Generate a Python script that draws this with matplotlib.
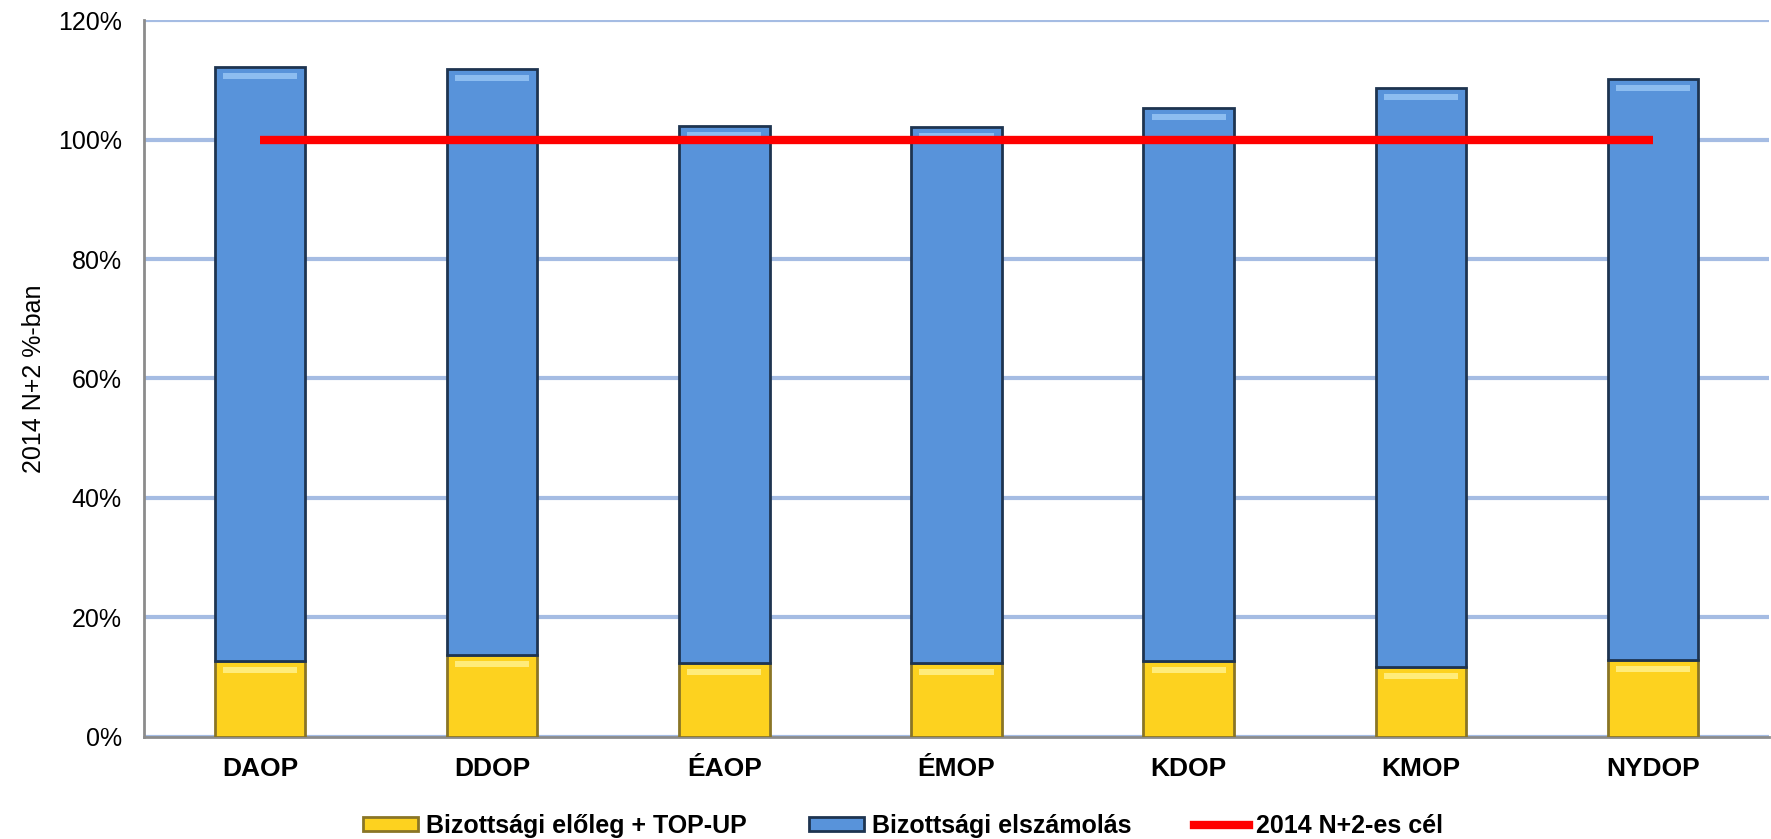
import matplotlib
matplotlib.use("Agg")
import matplotlib.pyplot as plt
from matplotlib.lines import Line2D
from matplotlib.patches import Patch

categories = ["DAOP", "DDOP", "ÉAOP", "ÉMOP", "KDOP", "KMOP", "NYDOP"]
eloleg = [12.7, 13.6, 12.4, 12.4, 12.7, 11.6, 12.9]
elszamolas = [99.5, 98.3, 89.9, 89.7, 92.6, 97.1, 97.3]
cel = [100, 100, 100, 100, 100, 100, 100]
yticks = [0, 20, 40, 60, 80, 100, 120]

plt.rcParams['font.family'] = ['Liberation Sans', 'DejaVu Sans']

fig = plt.figure(figsize=(17.71, 8.39), dpi=100)
ax = fig.add_axes([0.0813, 0.122, 0.9176, 0.8538])

x = list(range(len(categories)))
w = 0.39
ax.bar(x, eloleg, width=w, color='#FDD21F', edgecolor='#8A7526', linewidth=2, zorder=3)
ax.bar(x, elszamolas, width=w, bottom=eloleg, color='#5893DA', edgecolor='#1E3450', linewidth=2, zorder=3)

# light band under the top edge, a rough stand-in for the bevel
tops = [a + b for a, b in zip(eloleg, elszamolas)]
ax.bar(x, [1.0] * len(x), width=w * 0.82, bottom=[t - 2.0 for t in tops], color='#8DBDF0', linewidth=0, zorder=4)
ax.bar(x, [1.0] * len(x), width=w * 0.82, bottom=[e - 2.0 for e in eloleg], color='#FFEC7A', linewidth=0, zorder=4)

ax.plot(x, cel, color='#FF0000', linewidth=6, solid_capstyle='butt', zorder=5)

ax.set_xlim(-0.5, len(categories) - 0.5)
ax.set_ylim(0, 120)
ax.set_yticks(yticks)
ax.set_yticklabels([f"{v}%" for v in yticks], fontsize=18)
ax.set_xticks(x)
ax.set_xticklabels(categories, fontsize=19, fontweight='bold')
ax.tick_params(axis='y', length=0, pad=16)
ax.tick_params(axis='x', length=0, pad=15)
ax.grid(axis='y', color='#A5BCE3', linewidth=3, zorder=0)
ax.set_axisbelow(True)
for s in ['top', 'right']:
    ax.spines[s].set_visible(False)
ax.spines['left'].set_color('#8C8C8C')
ax.spines['bottom'].set_color('#8C8C8C')
ax.spines['left'].set_linewidth(2)
ax.spines['bottom'].set_linewidth(2)
ax.set_ylabel("2014 N+2 %-ban", fontsize=18)
ax.yaxis.set_label_coords(-0.06, 0.5)

handles = [
    Patch(facecolor='#FDD21F', edgecolor='#8A7526', linewidth=2),
    Patch(facecolor='#5893DA', edgecolor='#1E3450', linewidth=2),
    Line2D([0], [0], color='#FF0000', linewidth=6),
]
labels = ["Bizottsági előleg + TOP-UP", "Bizottsági elszámolás", "2014 N+2-es cél"]
fig.legend(handles, labels, loc='center', bbox_to_anchor=(0.51, 0.016), ncol=3,
           frameon=False, prop={'size': 18, 'weight': 'bold'},
           handlelength=2.2, handleheight=0.5, columnspacing=2.5, handletextpad=0.3)

fig.savefig("out.png", dpi=100)
